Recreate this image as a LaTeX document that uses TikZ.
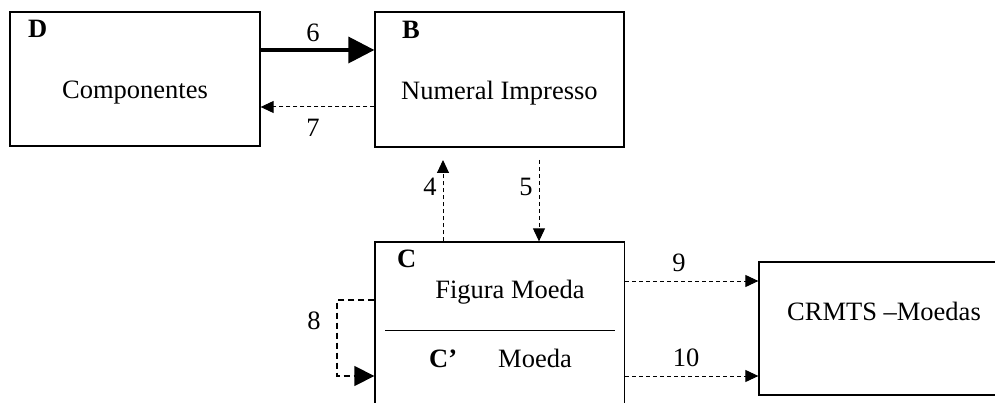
\documentclass[tikz,border=0pt]{standalone}
\usepackage{fontspec}
\setmainfont{Liberation Serif}
\usetikzlibrary{arrows.meta}
\begin{document}
\begin{tikzpicture}[x=1pt,y=-1pt,
  box/.style={draw, line width=1.3pt, inner sep=0pt, minimum width=#1},
  txt/.style={font=\fontsize{26.5}{30}\selectfont, inner sep=0pt, anchor=base},
  btxt/.style={font=\fontsize{26.5}{30}\selectfont\bfseries, inner sep=0pt, anchor=base west},
  dsh/.style={line width=1pt, dash pattern=on 4pt off 3pt, -{Triangle[length=13pt,width=12pt]}},
  bigtip/.style={-{Triangle[length=#1,width=#1]}}
]
\useasboundingbox (0,0) rectangle (995,403);
\clip (0,0) rectangle (995,403);
% boxes
\node[box=250pt, minimum height=134pt] (D) at (135,79) {};
\node[box=249pt, minimum height=135pt] (B) at (499.5,79.5) {};
\node[box=249.5pt, minimum height=188pt] (C) at (499.75,336) {};
\node[box=241pt, minimum height=133pt] (R) at (879.5,328.5) {};
% texts
\node[btxt] (Dl) at (28,38) {D};
\node[txt] (Dt) at (135,99) {Componentes};
\node[btxt] (Bl) at (402,39) {B};
\node[txt, anchor=base west] (Bt) at (401,100) {Numeral Impresso};
\node[btxt] (Cl) at (397,267) {C};
\node[txt] (Ct) at (510,298) {Figura Moeda};
\node[btxt] (Cpl) at (429,367) {C’};
\node[txt, anchor=base west] (Cpt) at (498,367) {Moeda};
\node[txt, anchor=base west] (Rt) at (787,320) {CRMTS –Moedas};
% divider
\coordinate (dvl) at (385,330);
\coordinate (dvr) at (615,330);
\draw[line width=1pt] (dvl) -- (dvr);
% connectors
\draw[line width=3.5pt, -{Triangle[length=26pt,width=26pt]}] (D.east |- {0,50}) -- (B.west |- {0,50});
\node[txt] (l6) at (313,42) {6};
\draw[dsh] (B.west |- {0,107}) -- (D.east |- {0,107});
\node[txt] (l7) at (313,137) {7};
\coordinate (t4) at (443,160);
\draw[dsh] (C.north -| t4) -- (t4);
\node[txt] (l4) at (430,196) {4};
\coordinate (s5) at (539,160);
\draw[dsh] (s5) -- (C.north -| s5);
\node[txt] (l5) at (526,196) {5};
\coordinate (c8a) at (337,300);
\coordinate (c8b) at (337,376);
\draw[line width=1.3pt, dash pattern=on 6pt off 4pt, -{Triangle[length=20pt,width=20pt]}] (C.west |- c8a) -- (c8a) -- (c8b) -- (C.west |- c8b);
\node[txt] (l8) at (314,329) {8};
\draw[dsh] (C.east |- {0,281}) -- (R.west |- {0,281});
\node[txt] (l9) at (679,272) {9};
\draw[dsh] (C.east |- {0,376}) -- (R.west |- {0,376});
\node[txt] (l10) at (686,366) {10};
\end{tikzpicture}
\end{document}
